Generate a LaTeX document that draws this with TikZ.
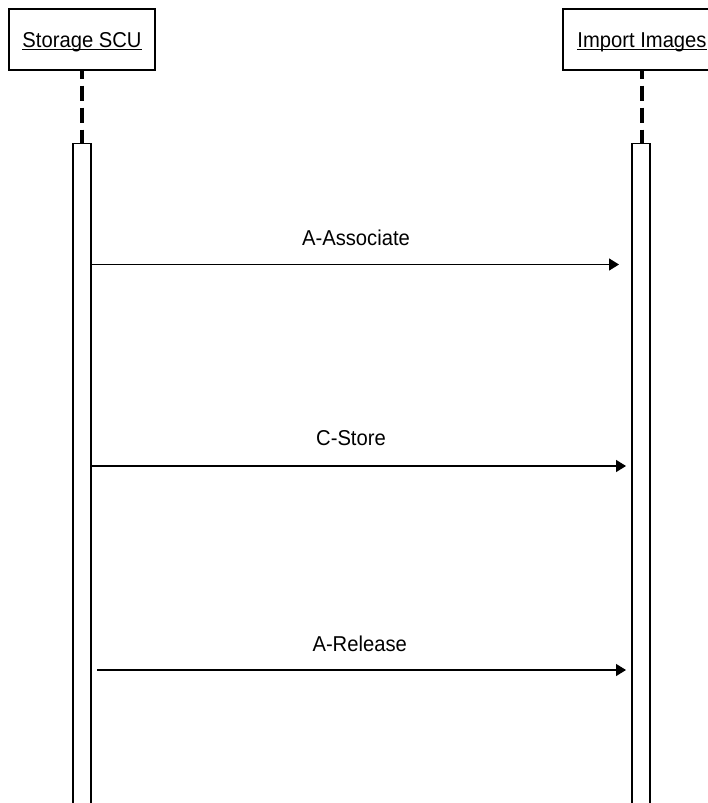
\documentclass[tikz,border=0pt]{standalone}
\usepackage{fontspec}
\setmainfont{Liberation Sans}[FakeStretch=0.94]
\usetikzlibrary{arrows.meta}
\newcommand\ulbox[1]{\setbox0\hbox{#1}\rlap{\rule[-3pt]{\wd0}{1.4pt}}\box0}
\tikzset{
  objbox/.style={draw=black, line width=1.1pt, rectangle, minimum height=61pt,
    inner sep=0pt, text height=15.5pt, text depth=0pt,
    font=\fontsize{21.5}{24}\selectfont},
  actbar/.style={draw=black, line width=1.1pt, rectangle, minimum width=18pt,
    minimum height=700pt, inner sep=0pt, fill=white},
  lifeline/.style={line width=3.3pt, dash pattern=on 15pt off 7pt, dash phase=7pt},
  msg/.style={line width=1.4pt, -{Triangle[length=10pt,width=12pt]}},
  msglabel/.style={anchor=base, inner sep=0pt, font=\fontsize{21.5}{24}\selectfont}
}
\begin{document}
\begin{tikzpicture}[x=1pt,y=-1pt]
\useasboundingbox (0,0) rectangle (708,803);
\fill[white] (0,0) rectangle (708,803);
\clip (0,0) rectangle (708,803);
% objects
\node[objbox, minimum width=146pt] (scu) at (82,39.5) {\ulbox{Storage SCU}};
\node[objbox, minimum width=158pt] (imp) at (642,39.5) {\ulbox{Import Images}};
% activation bars
\node[actbar, anchor=north] (bar1) at (82,143) {};
\node[actbar, anchor=north] (bar2) at (641,143) {};
% lifelines
\draw[lifeline] (scu.south) -- (scu.south |- bar1.north);
\draw[lifeline] (imp.south) -- (imp.south |- bar2.north);
% message end points
\coordinate (m1s) at (91,264.5);  \coordinate (m1e) at (619,264.5);
\coordinate (m2s) at (91,466);    \coordinate (m2e) at (626,466);
\coordinate (m3s) at (97,670);    \coordinate (m3e) at (626,670);
\draw[msg] (m1s) -- (m1e);
\draw[msg] (m2s) -- (m2e);
\draw[msg] (m3s) -- (m3e);
\node[msglabel] (l1) at (356,245) {A-Associate};
\node[msglabel] (l2) at (351,445) {C-Store};
\node[msglabel] (l3) at (359.7,651) {A-Release};
\end{tikzpicture}
\end{document}
